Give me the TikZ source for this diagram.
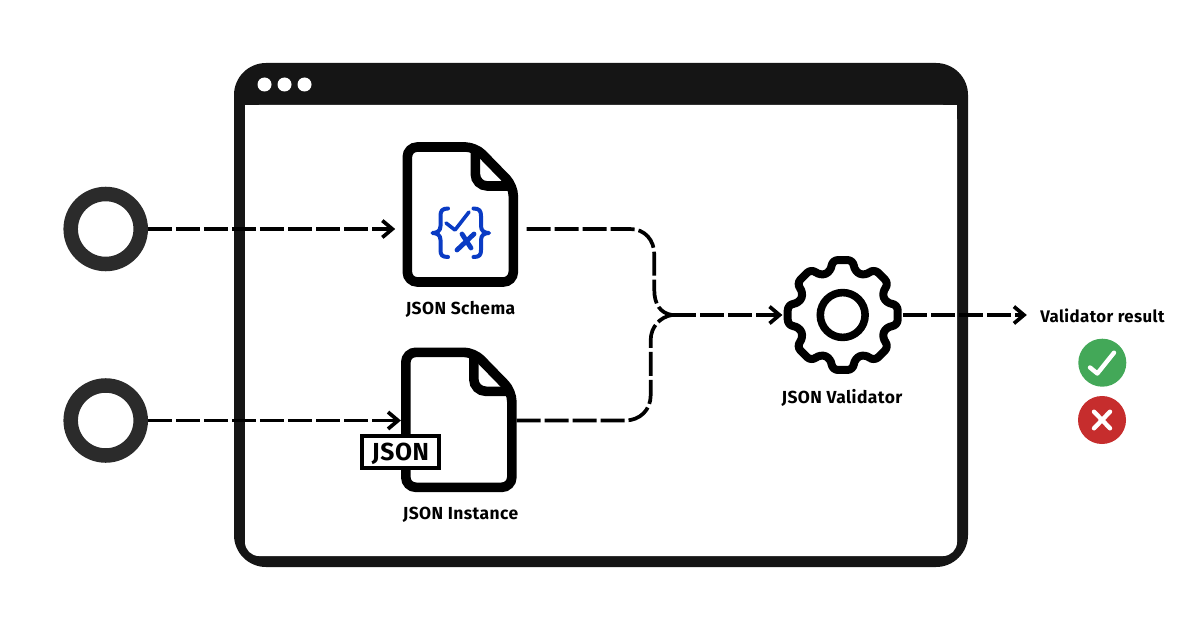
\documentclass[tikz,border=0pt]{standalone}
\usepackage{fontspec}
\setmainfont{Fira Sans}[LetterSpace=2.5]
\usetikzlibrary{arrows.meta}
\definecolor{barblack}{HTML}{151515}
\definecolor{ringgray}{HTML}{2B2B2B}
\definecolor{schemablue}{HTML}{0A3BC4}
\definecolor{okgreen}{HTML}{43A858}
\definecolor{badred}{HTML}{C62D2D}
\tikzset{
    flowline/.style={line width=0.0925cm,dash pattern=on 0.6cm off 0.1cm,-{Straight Barb[length=0.25cm,width=0.42cm,line width=0.0925cm]}},
    plainflow/.style={line width=0.0925cm,dash pattern=on 0.6cm off 0.1cm},
    userring/.style={circle,draw=ringgray,line width=0.3625cm,minimum size=1.75cm,inner sep=0pt},
    iconlabel/.style={font=\bfseries\fontsize{12.4}{14}\selectfont,inner sep=0pt},
    badge/.style={circle,minimum size=1.2cm,inner sep=0pt},
    badgemark/.style={white,line width=0.11cm,line cap=round,line join=round},
    fileicon/.pic={
        \draw[line width=0.24cm,fill=white,rounded corners=0.25cm] (30,0) -- (68,0) -- (106,39) -- (106,135) -- (0,135) -- (0,0) -- cycle;
        \draw[line width=0.24cm,rounded corners=0.3cm] (68,0) -- (68,39) -- (106,39);
    }
}
\begin{document}
\begin{tikzpicture}[x=0.025cm,y=-0.025cm]
        \useasboundingbox (0,0) rectangle (1200,630);
        \fill[barblack,rounded corners=0.8cm] (234,63) rectangle (968,567);
        \fill[white,rounded corners=0.35cm] (245,105) -- (957,105) -- (957,556) -- (245,556) -- cycle;
        \fill[white] (245,105) rectangle (270,130);
        \fill[white] (932,105) rectangle (957,130);
        \foreach \x in {264.5,284.5,304.5} {
            \fill[white] (\x,84.5) circle [radius=0.175cm];
        }
        \node[userring] (user1) at (105.7,229) {};
        \node[userring] (user2) at (105.7,420.5) {};
        \node[minimum width=2.9cm,minimum height=3.61cm,inner sep=0pt] (schema) at (460.3,214.5) {};
        \node[minimum width=2.875cm,minimum height=3.635cm,inner sep=0pt] (instance) at (458.7,420) {};
        \node[minimum size=3cm,circle,inner sep=0pt] (gear) at (842.7,315) {};
        \node[iconlabel,font=\bfseries\fontsize{11.95}{14}\selectfont,anchor=west] (result) at (1040,316) {Validator result};
        \coordinate (merge) at (672,315);
        \draw[flowline,shorten >=0.17cm] (user1.east) -- (schema.west |- user1);
        \draw[flowline] (user2.east) -- (instance.west |- user2);
        \draw[plainflow,shorten <=0.2cm] (schema.east |- user1) -- (630,229) .. controls (645,229) and (654.3,240) .. (654.3,255) -- (654.3,290) .. controls (654.3,304) and (660,313) .. (merge);
        \draw[plainflow] (instance.east |- user2) -- (625,420.5) .. controls (640,420.5) and (650.7,410) .. (650.7,395) -- (650.7,340) .. controls (650.7,327) and (660,317) .. (merge);
        \draw[flowline] (merge) -- (gear.west);
        \draw[flowline,shorten >=0.33cm] (gear.east) -- (result.west |- gear);
        \pic at (407.3,147) {fileicon};
        \pic at (405.8,352.3) {fileicon};
        \draw[schemablue,line width=0.1cm,line join=round,line cap=round] (448,208.5) .. controls (442,208.5) and (440.5,211) .. (440.5,216) -- (440.5,226) .. controls (440.5,231) and (437,233) .. (432.5,233) .. controls (437,233) and (440.5,235) .. (440.5,240) -- (440.5,250) .. controls (440.5,255) and (442,257) .. (448,257);
        \draw[schemablue,line width=0.1cm,line join=round,line cap=round] (473.5,208.5) .. controls (479.5,208.5) and (481,211) .. (481,216) -- (481,226) .. controls (481,231) and (484.5,233) .. (489,233) .. controls (484.5,233) and (481,235) .. (481,240) -- (481,250) .. controls (481,255) and (479.5,257) .. (473.5,257);
        \draw[schemablue,line width=0.09cm,line join=round,line cap=round] (446,223) -- (455,230) -- (469,212);
        \draw[schemablue,line width=0.12cm,line cap=round] (457,250) -- (474,234);
        \draw[schemablue,line width=0.12cm,line cap=round] (462,234) -- (471,248);
        \node[draw,fill=white,line width=0.1cm,minimum width=1.925cm,minimum height=0.8cm,inner sep=0pt,text height=11.5pt,text depth=0pt,font=\bfseries\fontsize{17.5}{18}\selectfont] (tag) at (400.5,452) {JSON};
        \begin{scope}[shift={(gear)}]
            \draw[line width=0.2cm,line join=round,rounded corners=0.15cm] (15:45) \foreach \a in {45,90,...,315} { -- (\a-15:45) -- (\a-11:56) -- (\a+11:56) -- (\a+15:45) } -- (345:45) -- (349:56) -- (11:56) -- cycle;
            \draw[line width=0.19cm] (0,0) circle [radius=0.56cm];
        \end{scope}
        \node[iconlabel] (schemalabel) at (460.5,309) {JSON Schema};
        \node[iconlabel] (instancelabel) at (460.5,515) {JSON Instance};
        \node[iconlabel] (gearlabel) at (842,398) {JSON Validator};
        \node[badge,fill=okgreen] (pass) at (1102.3,362.7) {};
        \node[badge,fill=badred] (fail) at (1102,420) {};
        \draw[badgemark] (1090,367.5) -- (1097.3,373.5) -- (1114,352.7);
        \draw[badgemark] (1094,411.7) -- (1110,428.3);
        \draw[badgemark] (1110,411.7) -- (1094,428.3);
    \end{tikzpicture}
\end{document}
